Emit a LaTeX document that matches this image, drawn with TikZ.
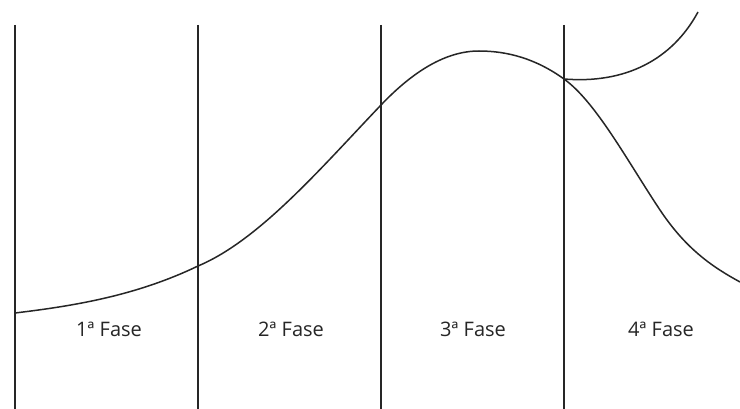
\documentclass[tikz,border=0pt]{standalone}
\usepackage{fontspec}
\setmainfont{Open Sans}
\begin{document}
\begin{tikzpicture}[x=1pt,y=-1pt,
  divider/.style={line width=1.3pt,black!85},
  curveline/.style={line width=1.5pt,black!85},
  phase/.style={font=\fontsize{20}{24}\selectfont,text=black!85,inner sep=0pt}]
\useasboundingbox (0,0) rectangle (740,409);
\fill[white] (0,0) rectangle (740,409);
% dividers
\foreach \x in {15,198,381,564}{
  \draw[divider] (\x,25) -- (\x,409);
}
% main curve
\coordinate (p0) at (15,313);
\coordinate (p1) at (198,266);
\coordinate (p2) at (381,105);
\coordinate (p3) at (479,51);
\coordinate (p4) at (564,79);
\coordinate (p5) at (660,210);
\coordinate (p6) at (740,282);
\coordinate (b1) at (698,12);
\draw[curveline] (p0)
  .. controls (76,305.7) and (137,295.3) .. (p1)
  .. controls (259,240.4) and (320,169) .. (p2)
  .. controls (413.7,70.7) and (446.3,51) .. (p3)
  .. controls (507.3,51) and (535.7,58.6) .. (p4)
  .. controls (596,102) and (628,162) .. (p5)
  .. controls (686.7,250) and (713.3,267.3) .. (p6);
% branch
\draw[curveline] (p4) .. controls (625,84) and (672,60) .. (b1);
% labels
\node[phase] (f1) at (109,329) {1ª Fase};
\node[phase] (f2) at (291,329) {2ª Fase};
\node[phase] (f3) at (473,329) {3ª Fase};
\node[phase] (f4) at (661,329) {4ª Fase};
\end{tikzpicture}
\end{document}
